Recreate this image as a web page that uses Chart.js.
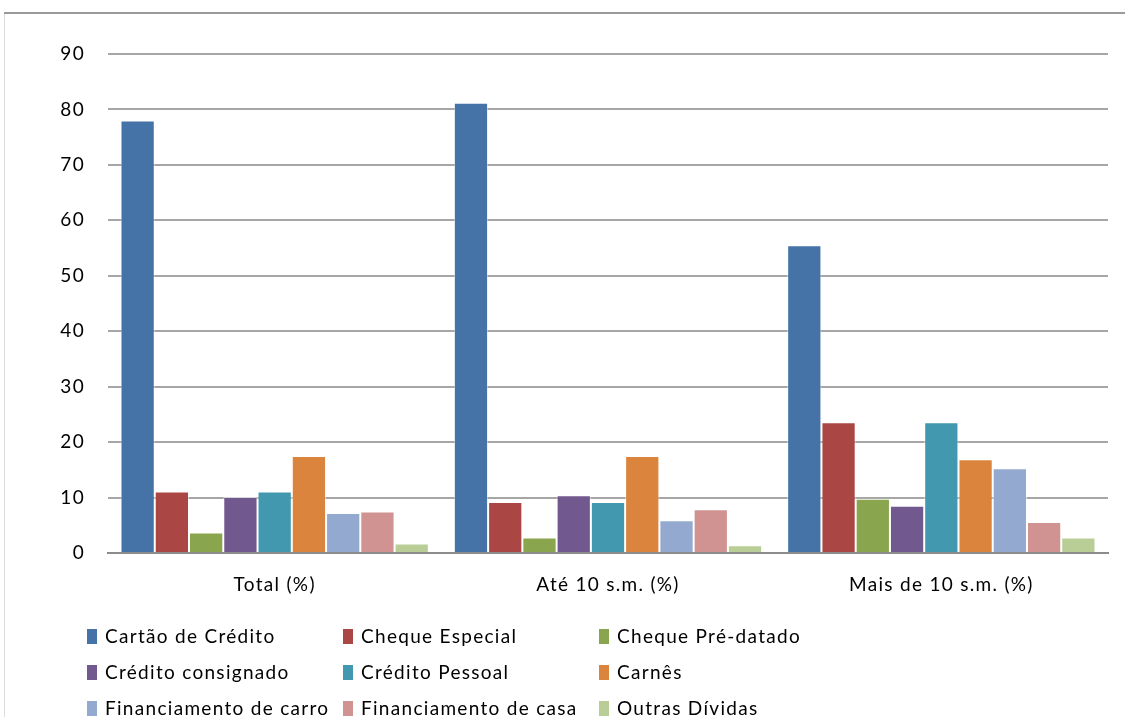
<!DOCTYPE html>
<html>
<head>
<meta charset="utf-8">
<script src="https://cdn.jsdelivr.net/npm/chart.js@4"></script>
<style>
  html, body { margin: 0; padding: 0; background: #fff; }
  #wrap { width: 1125px; height: 717px; position: relative; }
</style>
</head>
<body>
<div id="wrap"><canvas id="myChart" width="1125" height="717"></canvas></div>
<script>
'use strict'

// categories on the x axis
const categories = ['Total (%)', 'Até 10 s.m. (%)', 'Mais de 10 s.m. (%)'];

// series names (legend order)
const seriesNames = [
  'Cartão de Crédito', 'Cheque Especial', 'Cheque Pré-datado',
  'Crédito consignado', 'Crédito Pessoal', 'Carnês',
  'Financiamento de carro', 'Financiamento de casa', 'Outras Dívidas'
];

// values, one array per series
const cartaoCredito = [78.0, 81.2, 55.5];
const chequeEspecial = [11.1, 9.2, 23.6];
const chequePre = [3.7, 2.8, 9.8];
const creditoConsignado = [10.1, 10.4, 8.5];
const creditoPessoal = [11.1, 9.2, 23.6];
const carnes = [17.5, 17.5, 16.9];
const finCarro = [7.2, 5.9, 15.3];
const finCasa = [7.5, 7.9, 5.6];
const outrasDividas = [1.7, 1.4, 2.8];

// y axis ticks
const yTicks = [0, 10, 20, 30, 40, 50, 60, 70, 80, 90];

const seriesValues = [cartaoCredito, chequeEspecial, chequePre, creditoConsignado,
  creditoPessoal, carnes, finCarro, finCasa, outrasDividas];
const seriesColors = ['#4572A7', '#AA4643', '#89A54E', '#71588F', '#4198AF',
  '#DB843D', '#93A9CF', '#D19392', '#B9CD96'];

const FONT = 'Lato, "Open Sans", sans-serif';
const SPACING = '1.3px';

let datasets = [];
for (let i = 0; i < seriesNames.length; i++) {
  datasets.push({
    label: seriesNames[i],
    data: seriesValues[i],
    backgroundColor: seriesColors[i],
    borderColor: 'rgba(255,255,255,0.55)',
    borderWidth: 1,
    categoryPercentage: 0.925,
    barPercentage: 1.0
  });
}

// frame round the chart, letter spacing and the 3-column legend
const framePlugin = {
  id: 'frame',
  beforeLayout(chart) {
    chart.ctx.letterSpacing = SPACING;
  },
  beforeDraw(chart) {
    const c = chart.ctx;
    c.letterSpacing = SPACING;
    c.save();
    c.fillStyle = '#fff';
    c.fillRect(0, 0, chart.width, chart.height);
    c.strokeStyle = '#dcdcdc';
    c.lineWidth = 1;
    c.beginPath();
    c.moveTo(4.5, 13);
    c.lineTo(4.5, chart.height);
    c.stroke();
    c.strokeStyle = '#9a9a9a';
    c.lineWidth = 2;
    c.beginPath();
    c.moveTo(4, 13);
    c.lineTo(chart.width, 13);
    c.stroke();
    c.restore();
  },
  afterDraw(chart) {
    const c = chart.ctx;
    const colX = [87, 343, 599];
    const rowY = [637, 673, 709];
    c.save();
    c.letterSpacing = SPACING;
    c.font = '19px ' + FONT;
    c.textBaseline = 'middle';
    c.textAlign = 'left';
    chart.data.datasets.forEach((ds, i) => {
      const x = colX[i % 3];
      const y = rowY[Math.floor(i / 3)];
      c.fillStyle = ds.backgroundColor;
      c.fillRect(x, y - 8, 10, 15);
      c.fillStyle = '#000';
      c.fillText(ds.label, x + 18, y);
    });
    c.restore();
  }
};

let config = {
  type: 'bar',
  data: {
    labels: categories,
    datasets: datasets
  },
  options: {
    responsive: false,
    animation: false,
    layout: { padding: { left: 40, right: 17, top: 54, bottom: 0 } },
    plugins: {
      legend: { display: false },
      tooltip: { enabled: false }
    },
    scales: {
      x: {
        grid: { display: false, drawTicks: false },
        border: { color: '#8c8c8c', width: 2 },
        ticks: { color: '#000', font: { family: FONT, size: 19 }, padding: 20 },
        afterFit(scale) { scale.height = 164; }
      },
      y: {
        min: 0,
        max: 90,
        afterBuildTicks(scale) { scale.ticks = yTicks.map(v => ({ value: v })); },
        grid: { color: '#a6a6a6', lineWidth: 2, drawTicks: false },
        border: { display: false },
        ticks: { color: '#000', font: { family: FONT, size: 19 }, padding: 23 },
        afterFit(scale) { scale.width = 68; }
      }
    }
  },
  plugins: [framePlugin]
};

const ctx = document.getElementById('myChart').getContext('2d');
const myChart = new Chart(ctx, config);
</script>
</body>
</html>
